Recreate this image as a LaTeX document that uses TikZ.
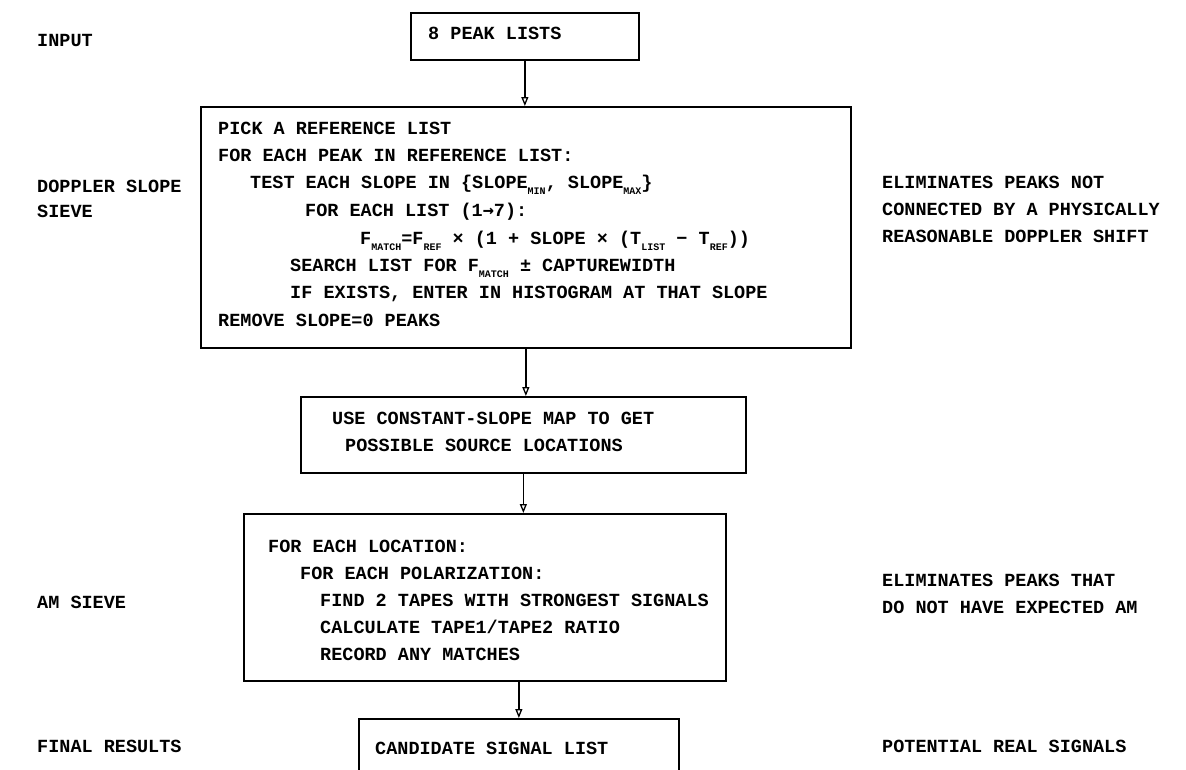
\documentclass[tikz,border=0pt]{standalone}
\usepackage{fontspec}
\setmainfont{Liberation Mono}
\newfontfamily\symf{DejaVu Sans Mono}
\usetikzlibrary{arrows.meta}
\newcommand{\lo}[1]{\raisebox{-0.3em}{\fontsize{10}{10}\selectfont #1}}
\begin{document}
\begin{tikzpicture}[x=1pt,y=-1pt,
  box/.style={draw, line width=1.7pt, inner sep=0pt, anchor=north west},
  txt/.style={anchor=base west, inner sep=0pt, font=\fontsize{18.5}{20}\selectfont\bfseries},
  arr/.style={line width=1.3pt, -{Triangle[open,length=9pt,width=7pt]}}]
\useasboundingbox (0,0) rectangle (1186,769);
\clip (0,0) rectangle (1186,769);
\fill[white] (0,0) rectangle (1186,769);

% boxes
\node[box, minimum width=228pt, minimum height=47pt] (b1) at (410,12) {};
\node[box, minimum width=650pt, minimum height=241pt] (b2) at (200,106) {};
\node[box, minimum width=445pt, minimum height=76pt] (b3) at (300,396) {};
\node[box, minimum width=482pt, minimum height=167pt] (b4) at (243,513) {};
\node[box, minimum width=320pt, minimum height=100pt] (b5) at (358,718) {};

% connectors
\draw[arr] (b1.south) -- (b1.south |- b2.north);
\draw[arr] (b2.south) -- (b2.south |- b3.north);
\draw[arr] (b3.south) -- (b3.south |- b4.north);
\draw[arr] (b5.north |- b4.south) -- (b5.north);

% box texts
\node[txt] (t1) at (428,39.5) {8 PEAK LISTS};

\node[txt] (t2a) at (218,134.5) {PICK A REFERENCE LIST};
\node[txt] (t2b) at (218,161.5) {FOR EACH PEAK IN REFERENCE LIST:};
\node[txt] (t2c) at (250,188.5) {TEST EACH SLOPE IN \{SLOPE\lo{MIN}, SLOPE\lo{MAX}\}};
\node[txt] (t2d) at (305,216.5) {FOR EACH LIST (1{\symf →}7):};
\node[txt] (t2e) at (360,244.5) {F\lo{MATCH}=F\lo{REF} × (1 + SLOPE × (T\lo{LIST} − T\lo{REF}))};
\node[txt] (t2f) at (290,271.5) {SEARCH LIST FOR F\lo{MATCH} ± CAPTUREWIDTH};
\node[txt] (t2g) at (290,298.5) {IF EXISTS, ENTER IN HISTOGRAM AT THAT SLOPE};
\node[txt] (t2h) at (218,326.5) {REMOVE SLOPE=0 PEAKS};

\node[txt] (t3a) at (332,424.5) {USE CONSTANT-SLOPE MAP TO GET};
\node[txt] (t3b) at (345,451.5) {POSSIBLE SOURCE LOCATIONS};

\node[txt] (t4a) at (268,552.5) {FOR EACH LOCATION:};
\node[txt] (t4b) at (300,579.5) {FOR EACH POLARIZATION:};
\node[txt] (t4c) at (320,606.5) {FIND 2 TAPES WITH STRONGEST SIGNALS};
\node[txt] (t4d) at (320,633.5) {CALCULATE TAPE1/TAPE2 RATIO};
\node[txt] (t4e) at (320,660.5) {RECORD ANY MATCHES};

\node[txt] (t5) at (375,754.5) {CANDIDATE SIGNAL LIST};

% left labels
\node[txt] (l1) at (37,46.5) {INPUT};
\node[txt] (l2a) at (37,192.5) {DOPPLER SLOPE};
\node[txt] (l2b) at (37,217.5) {SIEVE};
\node[txt] (l3) at (37,608.5) {AM SIEVE};
\node[txt] (l4) at (37,752.5) {FINAL RESULTS};

% right labels
\node[txt] (r1a) at (882,188.5) {ELIMINATES PEAKS NOT};
\node[txt] (r1b) at (882,215.5) {CONNECTED BY A PHYSICALLY};
\node[txt] (r1c) at (882,242.5) {REASONABLE DOPPLER SHIFT};
\node[txt] (r2a) at (882,586.5) {ELIMINATES PEAKS THAT};
\node[txt] (r2b) at (882,613.5) {DO NOT HAVE EXPECTED AM};
\node[txt] (r3) at (882,752.5) {POTENTIAL REAL SIGNALS};
\end{tikzpicture}
\end{document}
